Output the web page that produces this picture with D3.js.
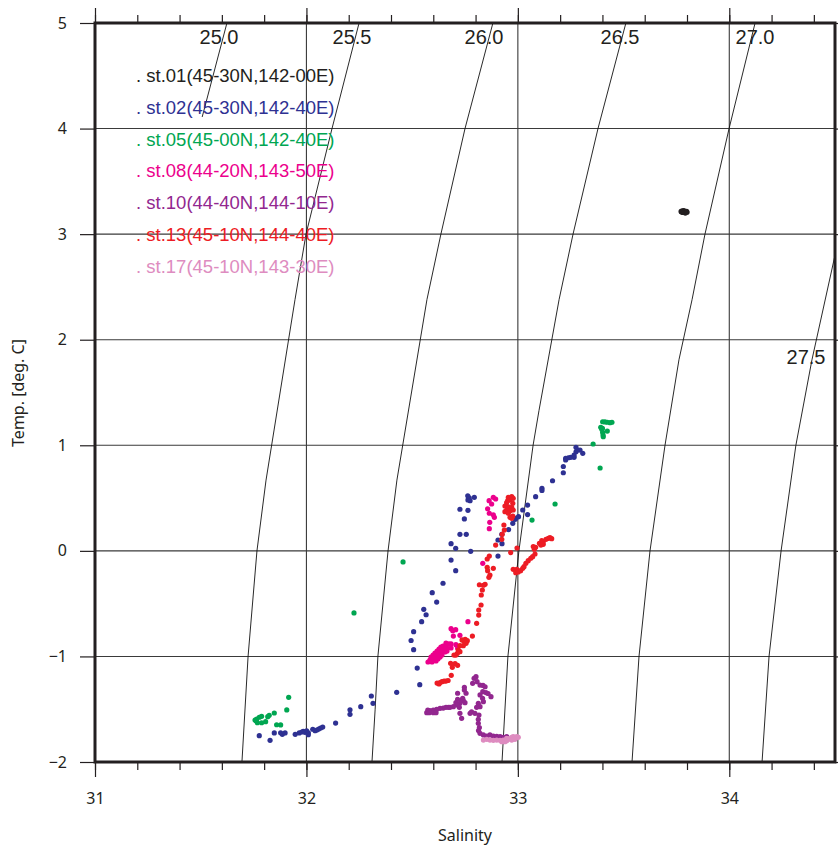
<!DOCTYPE html>
<html>
<head>
<meta charset="utf-8">
<script src="https://cdn.jsdelivr.net/npm/d3@7"></script>
<style>
  body { margin: 0; background: #fff; }
  svg text { fill: #231f20; }
</style>
</head>
<body>
<svg id="chart" width="838" height="852"></svg>
<script>
"use strict";
var plotL = 95, plotR = 835, plotT = 23, plotB = 762;

// station names and colours
var stationNames = [". st.01(45-30N,142-00E)", ". st.02(45-30N,142-40E)", ". st.05(45-00N,142-40E)",
  ". st.08(44-20N,143-50E)", ". st.10(44-40N,144-10E)", ". st.13(45-10N,144-40E)", ". st.17(45-10N,143-30E)"];
var stationColors = ["#231f20", "#2e3192", "#00a651", "#ec008c", "#92278f", "#ed1c24", "#de8cc0"];

// [salinity, temperature]
var st01 = [[33.772,3.215],[33.778,3.22],[33.783,3.212],[33.787,3.205],[33.79,3.215],[33.795,3.21],
  [33.80,3.208],[33.785,3.222],[33.78,3.205],[33.792,3.20],[33.775,3.21],[33.798,3.215]];
var st02 = [[31.777,-1.751],[31.828,-1.795],[31.848,-1.725],[31.878,-1.723],[31.886,-1.738],[31.899,-1.725],
  [31.947,-1.738],[31.966,-1.725],[31.978,-1.716],[31.985,-1.709],[31.993,-1.719],[32.001,-1.706],
  [32.009,-1.723],[32.009,-1.741],[32.030,-1.690],[32.041,-1.704],[32.049,-1.697],[32.058,-1.688],
  [32.067,-1.678],[32.077,-1.669],[32.138,-1.631],[32.206,-1.505],[32.206,-1.548],[32.257,-1.476],
  [32.307,-1.375],[32.315,-1.444],[32.427,-1.340],[32.536,-1.268],[32.524,-1.110],[32.507,-0.936],
  [32.495,-0.849],[32.507,-0.766],[32.545,-0.671],[32.566,-0.605],[32.555,-0.554],[32.616,-0.485],
  [32.595,-0.396],[32.646,-0.307],[32.706,-0.188],[32.684,-0.087],[32.777,-0.004],[32.706,0.024],
  [32.684,0.068],[32.756,0.157],[32.726,0.157],[32.747,0.302],[32.764,0.384],[32.726,0.394],
  [32.774,0.475],[32.764,0.482],[32.794,0.507],[32.770,0.503],[32.763,0.522],
  [32.906,-0.049],[32.906,0.103],[32.925,0.068],[32.924,0.157],[32.956,0.202],[32.976,0.261],
  [32.987,0.299],[32.991,0.308],[33.003,0.324],[33.046,0.344],[33.023,0.387],[33.046,0.434],
  [33.084,0.513],[33.114,0.572],[33.114,0.592],[33.164,0.664],[33.215,0.740],[33.215,0.799],
  [33.226,0.861],[33.226,0.877],[33.239,0.882],[33.250,0.886],[33.266,0.886],[33.266,0.908],
  [33.275,0.939],[33.275,0.981],[33.281,0.955],[33.294,0.955],[33.307,0.924]];
var st05 = [[31.916,-1.387],[31.907,-1.507],[31.848,-1.536],[31.824,-1.558],[31.817,-1.571],[31.788,-1.567],
  [31.777,-1.576],[31.765,-1.593],[31.757,-1.602],[31.762,-1.611],[31.768,-1.628],[31.788,-1.628],
  [31.807,-1.618],[31.859,-1.647],[31.878,-1.649],[32.225,-0.588],[32.457,-0.105],[33.067,0.292],
  [33.176,0.444],[33.389,0.785],[33.356,1.012],[33.401,1.223],[33.412,1.221],[33.423,1.218],
  [33.436,1.214],[33.445,1.218],[33.392,1.170],[33.400,1.161],[33.397,1.152],[33.423,1.135],
  [33.401,1.123],[33.403,1.098],[33.404,1.081]];
var st08 = [[32.884,0.507],[32.895,0.491],[32.864,0.475],[32.876,0.444],[32.857,0.399],[32.865,0.356],
  [32.884,0.342],[32.889,0.318],[32.867,0.270],[32.865,0.210],[32.834,-0.118],[32.764,-0.671],
  [32.684,-0.737],[32.692,-0.756],[32.706,-0.747],[32.695,-0.807],[32.726,-0.800],[32.707,-0.889],
  [32.715,-0.920],[32.575,-1.053],[32.584,-1.034],[32.589,-1.006],[32.594,-1.053],[32.594,-1.015],
  [32.599,-0.987],[32.603,-1.024],[32.603,-0.996],[32.608,-0.968],[32.613,-1.006],[32.613,-1.043],
  [32.618,-0.949],[32.622,-0.987],[32.622,-1.024],[32.627,-0.930],[32.632,-0.968],[32.632,-1.006],
  [32.636,-0.911],[32.641,-0.949],[32.641,-0.987],[32.646,-0.901],[32.651,-0.930],[32.655,-0.958],
  [32.660,-0.892],[32.660,-0.873],[32.665,-0.920],[32.665,-0.949],[32.674,-0.882],[32.684,-0.920],
  [32.684,-0.882],[32.654,-0.939]];
var st10 = [[32.802,-1.192],[32.793,-1.207],[32.786,-1.255],[32.807,-1.239],[32.821,-1.271],[32.835,-1.275],
  [32.845,-1.287],[32.747,-1.293],[32.747,-1.318],[32.755,-1.349],[32.715,-1.349],[32.739,-1.397],
  [32.742,-1.419],[32.734,-1.413],[32.726,-1.444],[32.750,-1.438],[32.715,-1.406],[32.707,-1.438],
  [32.714,-1.460],[32.723,-1.482],[32.695,-1.476],[32.679,-1.482],[32.671,-1.482],[32.660,-1.482],
  [32.647,-1.489],[32.632,-1.492],[32.616,-1.501],[32.600,-1.508],[32.584,-1.514],[32.574,-1.508],
  [32.569,-1.533],[32.581,-1.533],[32.600,-1.533],[32.613,-1.533],[32.834,-1.334],[32.821,-1.365],
  [32.833,-1.397],[32.837,-1.429],[32.849,-1.342],[32.859,-1.351],[32.873,-1.381],[32.813,-1.444],
  [32.821,-1.476],[32.805,-1.482],[32.781,-1.524],[32.797,-1.539],[32.774,-1.539],[32.726,-1.539],
  [32.734,-1.586],[32.816,-1.555],[32.813,-1.596],[32.813,-1.634],[32.818,-1.673],[32.814,-1.702],
  [32.821,-1.728],[32.837,-1.744],[32.853,-1.754],[32.868,-1.744],[32.884,-1.754],[32.900,-1.757],
  [32.916,-1.760],[32.931,-1.766],[32.947,-1.760]];
var st13 = [[32.955,0.507],[32.971,0.513],[32.978,0.498],[32.963,0.482],[32.952,0.475],[32.947,0.456],
  [32.976,0.450],[32.939,0.425],[32.955,0.418],[32.971,0.412],[32.947,0.387],[32.963,0.380],
  [32.978,0.387],[32.939,0.371],[32.955,0.356],[32.976,0.330],[32.963,0.318],[32.971,0.308],
  [32.934,0.245],[32.936,0.197],[32.926,0.157],[32.924,0.109],[32.895,0.055],[32.966,-0.016],
  [32.996,0.027],[32.865,-0.049],[32.855,-0.077],[32.855,-0.156],[32.884,-0.165],[32.857,-0.188],
  [32.868,-0.229],[32.863,-0.251],[32.818,-0.321],[32.837,-0.326],[32.845,-0.317],[32.832,-0.371],
  [32.827,-0.418],[32.826,-0.513],[32.815,-0.560],[32.815,-0.608],[32.805,-0.686],[32.785,-0.807],
  [32.751,-0.838],[32.745,-0.857],[32.736,-0.844],[32.761,-0.851],[32.755,-0.876],[32.742,-0.898],
  [32.726,-0.898],[32.718,-0.939],[32.726,-0.955],[32.714,-0.971],[32.707,-0.987],[32.698,-0.987],
  [32.682,-1.065],[32.703,-1.069],[32.715,-1.084],[32.690,-1.103],[32.685,-1.179],
  [32.618,-1.252],[32.632,-1.247],[32.641,-1.239],[32.651,-1.233],[32.660,-1.233],[32.670,-1.228],
  [32.627,-1.261],[32.978,-0.175],[32.995,-0.175],[32.990,-0.207],[33.002,-0.200],[33.013,-0.188],
  [33.023,-0.165],[33.029,-0.150],[33.038,-0.118],[33.049,-0.093],[33.061,-0.070],[33.070,-0.055],
  [33.081,-0.030],[33.078,0.015],[33.084,0.034],[33.073,0.041],[33.102,0.071],[33.113,0.096],
  [33.120,0.087],[33.133,0.109],[33.144,0.119],[33.152,0.125],[33.160,0.115],[33.109,0.055],
  [33.120,0.062]];
var st17 = [[32.837,-1.792],[32.853,-1.785],[32.868,-1.792],[32.884,-1.795],[32.900,-1.792],[32.916,-1.795],
  [32.931,-1.792],[32.947,-1.798],[32.955,-1.785],[32.963,-1.776],[32.971,-1.766],[32.978,-1.760],
  [32.986,-1.766],[32.995,-1.760],[33.002,-1.766],[32.971,-1.792],[32.986,-1.785],[32.947,-1.776],
  [32.939,-1.808],[32.924,-1.808]];
var stations = [st01, st02, st05, st08, st10, st13, st17];

// sigma-t contours, [salinity, temperature]
var sigmaLabels = ["25.0", "25.5", "26.0", "26.5", "27.0", "27.5"];
var sigma250 = [[31.624,5.0],[31.507,4.11]];
var sigma255 = [[32.249,5.0],[32.121,4.0],[31.998,3.0],[31.946,2.38],[31.809,0.67],[31.766,0.0],[31.724,-1.0],[31.695,-2.0]];
var sigma260 = [[32.882,5.0],[32.750,4.0],[32.636,3.0],[32.570,2.38],[32.428,0.67],[32.386,0.0],[32.338,-1.0],[32.325,-1.5],[32.310,-2.0]];
var sigma265 = [[33.511,5.0],[33.379,4.0],[33.261,3.0],[33.195,2.38],[33.100,1.33],[33.072,1.0],[33.005,0.0],[32.953,-1.0],[32.925,-2.0]];
var sigma270 = [[34.122,5.0],[33.999,4.0],[33.885,3.0],[33.824,2.38],[33.762,1.81],[33.696,1.0],[33.625,0.0],[33.573,-1.0],[33.540,-2.0]];
var sigma275 = [[34.50,2.80],[34.391,1.81],[34.315,1.0],[34.245,0.0],[34.188,-1.0],[34.155,-2.0]];
var sigmaLines = [sigma250, sigma255, sigma260, sigma265, sigma270, sigma275];

var xTicks = [31, 32, 33, 34];
var yTicks = [-2, -1, 0, 1, 2, 3, 4, 5];

var x = d3.scaleLinear().domain([31, 34.5]).range([plotL, plotR]);
var y = d3.scaleLinear().domain([-2, 5]).range([plotB, plotT]);

var svg = d3.select("#chart");
var ink = "#231f20";

// clip for lines inside the frame
svg.append("clipPath").attr("id", "plotClip")
  .append("rect").attr("x", plotL).attr("y", plotT).attr("width", plotR - plotL).attr("height", plotB - plotT);

// grid
var grid = svg.append("g").attr("stroke", "#3a3a3a").attr("stroke-width", 1.1);
grid.selectAll(".gx").data([32, 33, 34]).enter().append("line")
  .attr("x1", function(d) { return x(d); }).attr("x2", function(d) { return x(d); })
  .attr("y1", plotT).attr("y2", plotB);
grid.selectAll(".gy").data([-1, 0, 1, 2, 3, 4]).enter().append("line")
  .attr("y1", function(d) { return y(d); }).attr("y2", function(d) { return y(d); })
  .attr("x1", plotL).attr("x2", plotR);

// isopycnals
var line = d3.line().x(function(d) { return x(d[0]); }).y(function(d) { return y(d[1]); });
svg.append("g").attr("clip-path", "url(#plotClip)")
  .selectAll("path").data(sigmaLines).enter().append("path")
  .attr("d", line).attr("fill", "none").attr("stroke", "#111").attr("stroke-width", 0.9);

// isopycnal labels
var labelPos = [[219, 44], [352, 44], [484, 44], [620, 44], [755, 44], [806, 364]];
svg.append("g").selectAll("text").data(sigmaLabels).enter().append("text")
  .attr("x", function(d, i) { return labelPos[i][0]; })
  .attr("y", function(d, i) { return labelPos[i][1]; })
  .attr("text-anchor", "middle")
  .style("font-family", "'Liberation Sans', Arial, sans-serif")
  .style("font-size", "20px")
  .text(function(d) { return d; });

// stations
stations.forEach(function(pts, i) {
  svg.append("g").attr("fill", stationColors[i])
    .selectAll("circle").data(pts).enter().append("circle")
    .attr("cx", function(d) { return x(d[0]); })
    .attr("cy", function(d) { return y(d[1]); })
    .attr("r", 2.6);
});

// legend
svg.append("g").selectAll("text").data(stationNames).enter().append("text")
  .attr("x", 136)
  .attr("y", function(d, i) { return 82 + i * 31.8; })
  .style("font-family", "'Liberation Sans', Arial, sans-serif")
  .style("font-size", "18.5px")
  .style("fill", function(d, i) { return stationColors[i]; })
  .text(function(d) { return d; });

// axes
var tickFont = "'Noto Sans', 'Open Sans', sans-serif";
function styleAxis(g) {
  g.select(".domain").remove();
  g.selectAll("line").attr("stroke", ink).attr("stroke-width", 1.2);
  g.selectAll("text").style("font-family", tickFont).style("font-size", "16px").style("fill", ink);
}
var minorTicks = d3.range(0, 18).map(function(i) { return 31 + i * 0.2; });

svg.append("g").attr("transform", "translate(0," + plotB + ")")
  .call(d3.axisBottom(x).tickValues(minorTicks).tickSize(8).tickFormat(""))
  .call(styleAxis);
svg.append("g").attr("transform", "translate(0," + plotB + ")")
  .call(d3.axisBottom(x).tickValues(xTicks).tickSize(15).tickPadding(16).tickFormat(d3.format("d")))
  .call(styleAxis);
svg.append("g").attr("transform", "translate(0," + plotT + ")")
  .call(d3.axisTop(x).tickValues(minorTicks).tickSize(8).tickFormat(""))
  .call(styleAxis);
svg.append("g").attr("transform", "translate(0," + plotT + ")")
  .call(d3.axisTop(x).tickValues(xTicks).tickSize(15).tickFormat(""))
  .call(styleAxis);
svg.append("g").attr("transform", "translate(" + plotL + ",0)")
  .call(d3.axisLeft(y).tickValues(yTicks).tickSize(15).tickPadding(13).tickFormat(d3.format("d")))
  .call(styleAxis);
svg.append("g").attr("transform", "translate(" + plotR + ",0)")
  .call(d3.axisRight(y).tickValues(yTicks).tickSize(6).tickFormat(""))
  .call(styleAxis);

// frame
svg.append("rect").attr("x", plotL).attr("y", plotT)
  .attr("width", plotR - plotL).attr("height", plotB - plotT)
  .attr("fill", "none").attr("stroke", ink).attr("stroke-width", 3);

// axis titles
svg.append("text").attr("x", (plotL + plotR) / 2).attr("y", 841)
  .attr("text-anchor", "middle")
  .style("font-family", tickFont).style("font-size", "16px")
  .text("Salinity");
svg.append("text").attr("transform", "translate(24,393) rotate(-90)")
  .attr("text-anchor", "middle")
  .style("font-family", tickFont).style("font-size", "16px")
  .text("Temp. [deg. C]");
</script>
</body>
</html>
